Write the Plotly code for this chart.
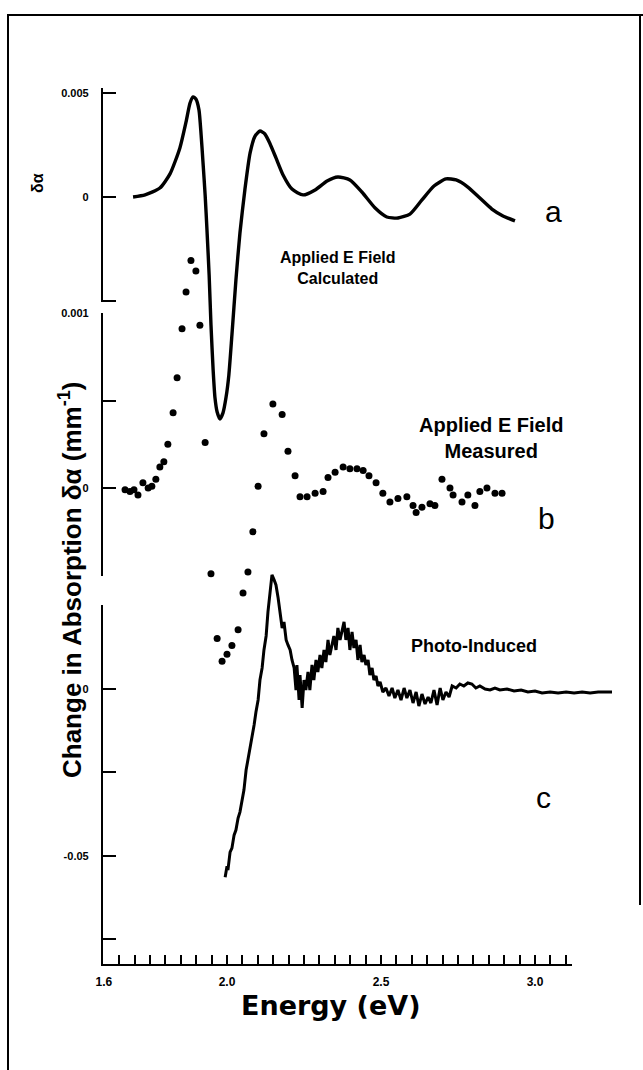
import plotly.graph_objects as go

# ---------------------------------------------------------------------------
# Data: photon energy (eV) and change in absorption for the three spectra
# ---------------------------------------------------------------------------

# (a) applied E field, calculated
energy_calc = [1.695, 1.734, 1.782, 1.815, 1.847, 1.867, 1.880, 1.890, 1.899, 1.909,
               1.916, 1.922, 1.929, 1.935, 1.942, 1.948, 1.955, 1.961, 1.968, 1.977,
               1.987, 1.997, 2.006, 2.016, 2.029, 2.042, 2.058, 2.075, 2.091, 2.107,
               2.123, 2.140, 2.159, 2.182, 2.211, 2.247, 2.286, 2.325, 2.360, 2.399,
               2.438, 2.481, 2.519, 2.555, 2.594, 2.633, 2.672, 2.711, 2.744, 2.782,
               2.821, 2.860, 2.896, 2.935]
dalpha_calc = [0.0, 0.0001, 0.00043, 0.00111, 0.00236, 0.00361, 0.00452, 0.00481, 0.00471, 0.00419,
               0.00298, 0.00168, 0.00010, -0.00159, -0.00375, -0.00615, -0.00832, -0.00966, -0.01034, -0.01067,
               -0.01038, -0.00962, -0.00856, -0.00663, -0.00399, -0.00173, 0.00034, 0.00212, 0.00293, 0.00317,
               0.00303, 0.00255, 0.00188, 0.00106, 0.00038, 0.00010, 0.00034, 0.00077, 0.00096, 0.00082,
               0.00024, -0.00053, -0.00096, -0.00101, -0.00082, -0.00014, 0.00053, 0.00087, 0.00082, 0.00048,
               -0.00005, -0.00058, -0.00091, -0.00115]

# (b) applied E field, measured
energy_meas = [1.669, 1.685, 1.698, 1.711, 1.727, 1.744, 1.756, 1.769, 1.782, 1.795,
               1.808, 1.825, 1.838, 1.854, 1.867, 1.883, 1.899, 1.912, 1.929, 1.948,
               1.968, 1.984, 2.000, 2.016, 2.036, 2.052, 2.068, 2.084, 2.101, 2.120,
               2.149, 2.179, 2.198, 2.221, 2.237, 2.260, 2.286, 2.312, 2.328, 2.351,
               2.377, 2.399, 2.422, 2.442, 2.461, 2.484, 2.506, 2.529, 2.555, 2.584,
               2.604, 2.614, 2.633, 2.659, 2.675, 2.698, 2.724, 2.734, 2.763, 2.782,
               2.805, 2.821, 2.844, 2.870, 2.893]
dalpha_meas = [-0.00001, -0.00002, -0.00001, -0.00004, 0.00003, 0.0, 0.00001, 0.00005, 0.00012, 0.00015,
               0.00025, 0.00043, 0.00063, 0.00091, 0.00112, 0.00130, 0.00124, 0.00093, 0.00026, -0.00049,
               -0.00086, -0.00099, -0.00095, -0.00090, -0.00081, -0.00060, -0.00048, -0.00025, 0.00001, 0.00031,
               0.00048, 0.00042, 0.00021, 0.00007, -0.00005, -0.00005, -0.00003, -0.00002, 0.00006, 0.00009,
               0.00012, 0.00011, 0.00011, 0.00010, 0.00007, 0.00003, -0.00003, -0.00008, -0.00006, -0.00005,
               -0.00010, -0.00014, -0.00011, -0.00009, -0.00010, 0.00005, 0.0, -0.00004, -0.00008, -0.00004,
               -0.00010, -0.00002, 0.0, -0.00003, -0.00003]

# (c) photo-induced
energy_photo = [1.994, 2.000, 2.003, 2.010, 2.016, 2.023, 2.029, 2.036, 2.042, 2.049,
                2.055, 2.062, 2.068, 2.075, 2.081, 2.088, 2.094, 2.101, 2.107, 2.114,
                2.120, 2.127, 2.133, 2.140, 2.146, 2.153, 2.159, 2.166, 2.172, 2.179,
                2.185, 2.192, 2.198, 2.205, 2.211, 2.218, 2.224, 2.227, 2.234, 2.237,
                2.244, 2.250, 2.256, 2.263, 2.269, 2.276, 2.282, 2.289, 2.295, 2.302,
                2.308, 2.315, 2.321, 2.328, 2.334, 2.341, 2.347, 2.354, 2.360, 2.367,
                2.373, 2.380, 2.386, 2.393, 2.399, 2.406, 2.412, 2.419, 2.425, 2.432,
                2.438, 2.445, 2.451, 2.458, 2.464, 2.471, 2.477, 2.484, 2.490, 2.497,
                2.506, 2.516, 2.526, 2.536, 2.545, 2.555, 2.565, 2.575, 2.584, 2.594,
                2.604, 2.614, 2.623, 2.633, 2.643, 2.653, 2.662, 2.672, 2.682, 2.692,
                2.701, 2.711, 2.721, 2.731, 2.744, 2.756, 2.769, 2.782, 2.795, 2.808,
                2.821, 2.838, 2.854, 2.870, 2.886, 2.909, 2.932, 2.955, 2.977, 3.000,
                3.023, 3.049, 3.075, 3.101, 3.127, 3.153, 3.179, 3.205, 3.231, 3.250]
dalpha_photo = [-0.0564, -0.0531, -0.0543, -0.0489, -0.0477, -0.0438, -0.0423, -0.0387, -0.0369, -0.0333,
                -0.0303, -0.0243, -0.0213, -0.0183, -0.0147, -0.0108, -0.0069, -0.0033, 0.0027, 0.0063,
                0.0117, 0.0159, 0.0231, 0.0297, 0.0342, 0.0327, 0.0312, 0.0273, 0.0222, 0.0183,
                0.0201, 0.0147, 0.0132, 0.0117, 0.0087, 0.0063, -0.0003, 0.0072, -0.0033, 0.0042,
                -0.0057, 0.0027, -0.0003, 0.0051, -0.0003, 0.0072, 0.0027, 0.0087, 0.0051, 0.0102,
                0.0063, 0.0117, 0.0081, 0.0147, 0.0102, 0.0132, 0.0159, 0.0117, 0.0183, 0.0147,
                0.0177, 0.0201, 0.0147, 0.0183, 0.0117, 0.0171, 0.0123, 0.0147, 0.0087, 0.0132,
                0.0081, 0.0102, 0.0072, 0.0087, 0.0042, 0.0063, 0.0027, 0.0039, 0.0009, 0.0021,
                -0.0009, 0.0003, -0.0021, 0.0003, -0.0027, -0.0003, -0.0033, 0.0003, -0.0027, -0.0003,
                -0.0042, -0.0009, -0.0051, -0.0015, -0.0045, -0.0024, -0.0042, -0.0003, -0.0048, 0.0003,
                -0.0033, -0.0009, -0.0024, 0.0009, 0.0003, 0.0015, 0.0009, 0.0018, 0.0015, 0.0003,
                0.0009, 0.0, -0.0003, 0.0003, -0.0003, 0.0, -0.0006, -0.0003, -0.0009, -0.0006,
                -0.0012, -0.0009, -0.0012, -0.0009, -0.0012, -0.0009, -0.0012, -0.0009, -0.0009, -0.0009]

# Tick values / labels
x_tickvals = [1.6, 2.0, 2.5, 3.0]
x_ticktext = ["1.6", "2.0", "2.5", "3.0"]
x_tick_step = 0.05
a_tickvals = [-0.005, 0.0, 0.005]
a_ticktext = ["", "0", "0.005"]
b_tickvals = [-0.0005, 0.0, 0.0005, 0.001]
b_ticktext = ["", "0", "", "0.001"]
c_tickvals = [0.025, 0.0, -0.025, -0.05, -0.075]
c_ticktext = ["", "0", "", "-0.05", ""]

# ---------------------------------------------------------------------------
# Page geometry (pixels); margins are zero so paper == page
# ---------------------------------------------------------------------------
W, H = 643, 1070
EV_REF, EV_REF_PX, PX_PER_EV = 2.0, 227.0, 308.0      # energy scale


def ev_at(px):
    return EV_REF + (px - EV_REF_PX) / PX_PER_EV


def yfrac(py):
    return 1.0 - py / H


# per-panel vertical scale: (pixel row of zero, pixels per unit)
PANEL_A = (197.0, 104.0 / 0.005)
PANEL_B = (488.0, 175.0 / 0.001)
PANEL_C = (689.0, 83.4 / 0.025)


def val_at(panel, py):
    zero_px, px_per_unit = panel
    return (zero_px - py) / px_per_unit


AXIS_LEFT_PX, AXIS_RIGHT_PX, AXIS_BOTTOM_PX = 103.0, 572.0, 964.0
FONT = "Liberation Sans, Arial, sans-serif"
WIDE_FONT = "DejaVu Sans, Verdana, sans-serif"
INK = "#000000"

x_lo, x_hi = ev_at(AXIS_LEFT_PX), ev_at(AXIS_RIGHT_PX)
x_domain = [AXIS_LEFT_PX / W, AXIS_RIGHT_PX / W]

# a tick every 0.05 eV; only the round values carry a label
n_ticks = int((x_hi - x_tickvals[0]) / x_tick_step + 1e-6)
x_all_ticks = [round(x_tickvals[0] + k * x_tick_step, 3) for k in range(n_ticks + 1)]
label_of = {round(v, 3): t for v, t in zip(x_tickvals, x_ticktext)}
x_all_text = [label_of.get(v, "") for v in x_all_ticks]

fig = go.Figure()

# empty traces so the three bracketed panel axes are laid out and drawn
for ya in ("y", "y2", "y3"):
    fig.add_trace(go.Scatter(x=[], y=[], xaxis="x", yaxis=ya, mode="lines",
                             showlegend=False, hoverinfo="skip"))

fig.add_trace(go.Scatter(
    x=energy_calc, y=dalpha_calc, xaxis="x2", yaxis="y4", mode="lines",
    line=dict(color=INK, width=3.4, shape="spline", smoothing=0.6),
    showlegend=False, hoverinfo="skip"))

fig.add_trace(go.Scatter(
    x=energy_meas, y=dalpha_meas, xaxis="x2", yaxis="y5", mode="markers",
    marker=dict(color=INK, size=7), showlegend=False, hoverinfo="skip"))

fig.add_trace(go.Scatter(
    x=energy_photo, y=dalpha_photo, xaxis="x2", yaxis="y6", mode="lines",
    line=dict(color=INK, width=3), showlegend=False, hoverinfo="skip"))

tickfont = dict(family=FONT, size=11, color=INK, weight="bold")


def visible_y(panel, top_px, bottom_px, tickvals, ticktext):
    return dict(
        domain=[yfrac(bottom_px), yfrac(top_px)],
        range=[val_at(panel, bottom_px), val_at(panel, top_px)],
        anchor="x", showline=True, linecolor=INK, linewidth=2.2,
        ticks="inside", ticklen=13, tickwidth=2, tickcolor=INK,
        tickmode="array", tickvals=tickvals, ticktext=ticktext,
        tickfont=tickfont, ticklabelstandoff=10, automargin=False,
        showgrid=False, zeroline=False, fixedrange=True)


def data_y(panel):
    return dict(domain=[0, 1], range=[val_at(panel, H), val_at(panel, 0)],
                anchor="x2", visible=False, showgrid=False, zeroline=False,
                automargin=False)


fig.update_layout(
    width=W, height=H, margin=dict(l=0, r=0, t=0, b=0, autoexpand=False),
    paper_bgcolor="white", plot_bgcolor="rgba(0,0,0,0)",
    xaxis=dict(
        domain=x_domain, range=[x_lo, x_hi],
        anchor="y3", showline=True, linecolor=INK, linewidth=2.2,
        ticks="inside", ticklen=9, tickwidth=2, tickcolor=INK,
        tickmode="array", tickvals=x_all_ticks, ticktext=x_all_text,
        tickfont=dict(family=FONT, size=12, color=INK, weight="bold"),
        ticklabelstandoff=5, automargin=False,
        showgrid=False, zeroline=False, fixedrange=True),
    xaxis2=dict(domain=[0, 1], range=[ev_at(0), ev_at(W)], anchor="y4",
                visible=False, showgrid=False, zeroline=False, automargin=False),
    yaxis=visible_y(PANEL_A, 88, 302, a_tickvals, a_ticktext),
    yaxis2=visible_y(PANEL_B, 313, 576, b_tickvals, b_ticktext),
    yaxis3=visible_y(PANEL_C, 605, AXIS_BOTTOM_PX, c_tickvals, c_ticktext),
    yaxis4=data_y(PANEL_A),
    yaxis5=data_y(PANEL_B),
    yaxis6=data_y(PANEL_C),
)


def note(text, px, py, size, bold=True, angle=0, family=FONT):
    fig.add_annotation(
        text=text, x=px / W, y=yfrac(py), xref="paper", yref="paper",
        showarrow=False, textangle=angle, xanchor="center", yanchor="middle",
        align="center",
        font=dict(family=family, size=size, color=INK,
                  weight="bold" if bold else "normal"))


note("Energy (eV)", 331, 1005, 27, family=WIDE_FONT)
note("Change in Absorption δα (mm<sup>-1</sup>)", 70, 580, 26, angle=-90)
note("δα", 37, 183, 16, angle=-90)
note("Applied E Field<br>Calculated", 338, 268, 16)
note("Applied E Field<br>Measured", 491, 438, 20)
note("Photo-Induced", 474, 646, 18)
note("a", 553, 212, 30, bold=False)
note("b", 546, 518, 30, bold=False)
note("c", 543, 797, 30, bold=False)

# page frame
frame = dict(type="line", xref="paper", yref="paper", line=dict(color=INK, width=2))
fig.add_shape(x0=8 / W, x1=8 / W, y0=yfrac(14), y1=0, **frame)
fig.add_shape(x0=8 / W, x1=1, y0=yfrac(15), y1=yfrac(15), **frame)
fig.add_shape(x0=640 / W, x1=640 / W, y0=yfrac(15), y1=yfrac(905), **frame)

fig.write_html("out.html")
